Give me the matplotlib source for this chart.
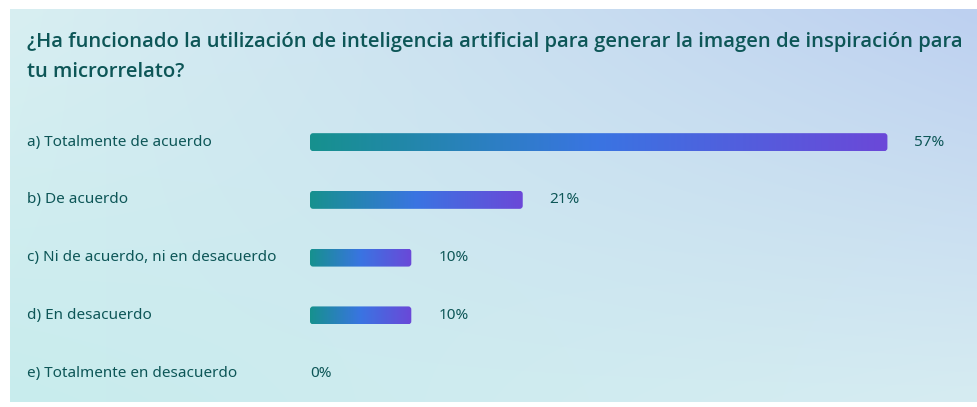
import numpy as np
import matplotlib.pyplot as plt
from matplotlib.patches import FancyBboxPatch
from matplotlib.colors import LinearSegmentedColormap
import matplotlib.transforms as mtransforms

plt.rcParams['font.family'] = ['Noto Sans', 'DejaVu Sans']

title = ('¿Ha funcionado la utilización de inteligencia artificial para generar la imagen de inspiración para\n'
         'tu microrrelato?')
categories = ['a) Totalmente de acuerdo',
              'b) De acuerdo',
              'c) Ni de acuerdo, ni en desacuerdo',
              'd) En desacuerdo',
              'e) Totalmente en desacuerdo']
values = [57, 21, 10, 10, 0]

txt_col = '#0d5657'
bar_cmap = LinearSegmentedColormap.from_list('bar', ['#16918e', '#3a74e2', '#6b48d8'])

W, H = 977, 407
fig = plt.figure(figsize=(W / 100, H / 100), dpi=100)
fig.patch.set_facecolor('white')

# background panel with soft gradient
bg = fig.add_axes([10 / W, 5 / H, 967 / W, 393 / H])
bg.set_axis_off()
tl = np.array([216, 239, 242]) / 255
tr = np.array([189, 208, 240]) / 255
bl = np.array([200, 236, 237]) / 255
br = np.array([214, 236, 242]) / 255
u = np.linspace(0, 1, 200)[None, :, None]
v = np.linspace(0, 1, 100)[:, None, None]
img = (1 - v) * ((1 - u) * tl + u * tr) + v * ((1 - u) * bl + u * br)
bg.imshow(img, aspect='auto', extent=[0, 1, 0, 1], interpolation='bicubic')
bg.set_xlim(0, 1)
bg.set_ylim(0, 1)

fig.text(27 / W, 1 - 57 / H, title, ha='left', va='center', color=txt_col,
         fontsize=14.6, fontweight='semibold', family=['Open Sans', 'DejaVu Sans'],
         linespacing=1.7)

# bar axes
px = 10.13
ax = fig.add_axes([310 / W, 5 / H, 60 * px / W, 5 * 57.75 / H])
ax.set_axis_off()
ax.set_xlim(0, 60)
ax.set_ylim(4.5, -0.5)
ypos = np.arange(len(categories))
bars = ax.barh(ypos, values, height=0.31, color='none')

grad = np.linspace(0, 1, 256)[None, :]
for b, val in zip(bars, values):
    if val <= 0:
        continue
    x0, y0, w, h = b.get_x(), b.get_y(), b.get_width(), b.get_height()
    clip = FancyBboxPatch((x0, y0), w, h, boxstyle='round,pad=0,rounding_size=0.3',
                          mutation_aspect=(1 / 57.75) / (1 / px),
                          transform=ax.transData, facecolor='none', edgecolor='none')
    ax.add_patch(clip)
    im = ax.imshow(grad, cmap=bar_cmap, aspect='auto', extent=[x0, x0 + w, y0 + h, y0],
                   interpolation='bicubic')
    im.set_clip_path(clip)

ax.set_xlim(0, 60)
ax.set_ylim(4.5, -0.5)

lab_tr = mtransforms.blended_transform_factory(fig.transFigure, ax.transData)
for y, cat, val in zip(ypos, categories, values):
    fig.text(27 / W, y, cat, transform=lab_tr, fontsize=11, color=txt_col,
             ha='left', va='center')
    ax.annotate(f'{val}%', (val, y), xytext=(0 if val == 0 else 27, 0),
                textcoords='offset pixels', fontsize=11, color=txt_col,
                ha='left', va='center')

fig.savefig('out.png', dpi=100)
